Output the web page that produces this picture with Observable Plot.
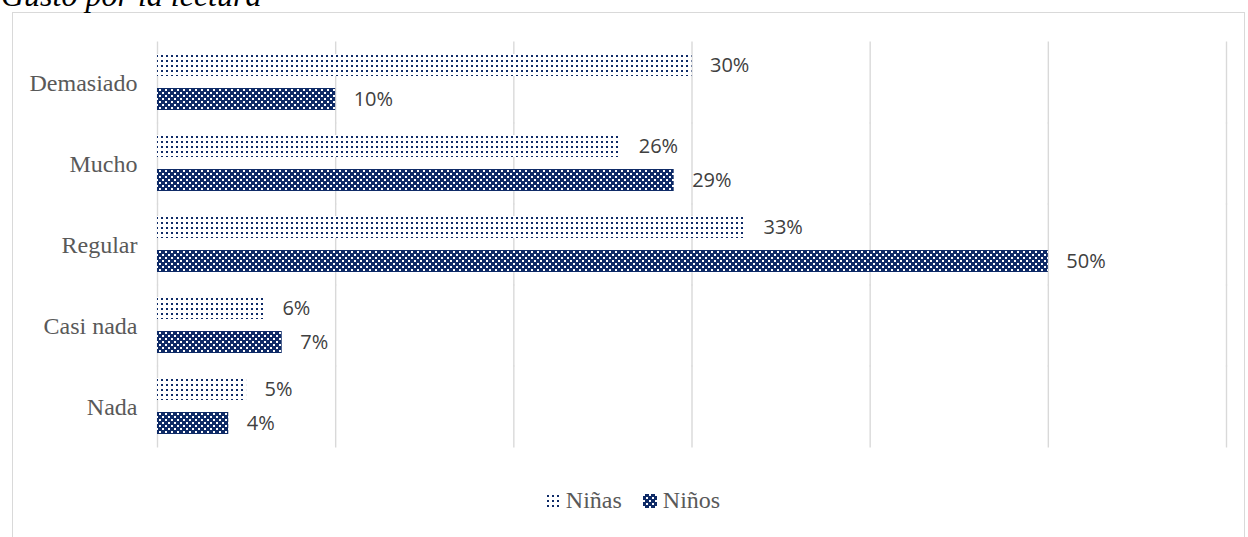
<!DOCTYPE html>
<html>
<head>
<meta charset="utf-8">
<script src="https://cdn.jsdelivr.net/npm/d3@7"></script>
<script src="https://cdn.jsdelivr.net/npm/@observablehq/plot@0.6"></script>
<style>
  html, body { margin: 0; padding: 0; background: #fff; overflow: hidden; }
  #wrap { position: relative; width: 1248px; height: 537px; overflow: hidden; }
  #frame { position: absolute; left: 12px; top: 12px; width: 1233px; height: 600px; border: 1.5px solid #d9d9d9; box-sizing: border-box; }
  #title { position: absolute; left: 1px; top: -21px; font-family: "Liberation Serif", "Times New Roman", serif; font-style: italic; font-size: 32px; line-height: 32px; color: #000; white-space: nowrap; }
  #chart { position: absolute; left: 0; top: 0; }
  #legend { position: absolute; top: 487px; left: 0; width: 1248px; display: flex; justify-content: center; gap: 21px; font-family: "Liberation Serif", "Times New Roman", serif; font-size: 24px; color: #595959; padding-left: 18px; box-sizing: border-box; }
  .item { display: flex; align-items: center; gap: 6px; }
  .item svg { display: block; }
</style>
</head>
<body>
<svg width="0" height="0" style="position:absolute">
  <defs>
    <pattern id="pNinas" patternUnits="userSpaceOnUse" width="5" height="5">
      <rect width="5" height="5" fill="#fff"></rect>
      <rect x="1" y="1" width="2" height="2" fill="#0f2b67"></rect>
    </pattern>
    <pattern id="pNinos" patternUnits="userSpaceOnUse" width="6" height="6">
      <rect width="6" height="6" fill="#0f2b67"></rect>
      <rect x="0" y="0" width="2" height="2" fill="#fff"></rect>
      <rect x="3" y="3" width="2" height="2" fill="#fff"></rect>
    </pattern>
  </defs>
</svg>
<div id="wrap">
  <div id="frame"></div>
  <div id="title">Gusto por la lectura</div>
  <div id="chart"></div>
  <div id="legend"></div>
</div>
<script>
// Data
const categories = ["Demasiado", "Mucho", "Regular", "Casi nada", "Nada"];
const series = ["Niñas", "Niños"];
const ninas = [30, 26, 33, 6, 5];
const ninos = [10, 29, 50, 7, 4];
const gridTicks = [0, 10, 20, 30, 40, 50, 60];
const patterns = ["url(#pNinas)", "url(#pNinos)"];

const data = [];
categories.forEach((c, i) => {
  data.push({category: c, series: series[0], value: ninas[i]});
  data.push({category: c, series: series[1], value: ninos[i]});
});

const chart = Plot.plot({
  width: 1248,
  height: 537,
  marginLeft: 157,
  marginRight: 22,
  marginTop: 40,
  marginBottom: 89,
  style: {fontFamily: "'Liberation Serif', 'Times New Roman', serif", fontSize: "24px", color: "#595959", background: "transparent"},
  x: {domain: [0, 60], axis: null},
  y: {domain: series, axis: null, paddingInner: 0.35, paddingOuter: 0},
  fy: {domain: categories, paddingInner: 0.3, paddingOuter: 0.15, label: null, tickSize: 0, tickPadding: 20},
  color: {domain: series, range: patterns},
  marks: [
    Plot.ruleX(gridTicks, {stroke: "#d9d9d9", strokeWidth: 1.4, insetTop: -12.5, insetBottom: -12.5}),
    Plot.barX(data, {x: "value", y: "series", fy: "category", fill: "series"}),
    Plot.text(data, {x: "value", y: "series", fy: "category", text: d => d.value + "%", dx: 18, textAnchor: "start", fontFamily: "'Open Sans', sans-serif", fontSize: 20, fill: "#404040"})
  ]
});
document.getElementById("chart").appendChild(chart);

// Legend
const legend = document.getElementById("legend");
series.forEach((s, i) => {
  const item = document.createElement("div");
  item.className = "item";
  item.innerHTML = `<svg width="14" height="14"><rect width="14" height="14" fill="${patterns[i]}"></rect></svg><span>${s}</span>`;
  legend.appendChild(item);
});
</script>
</body>
</html>
